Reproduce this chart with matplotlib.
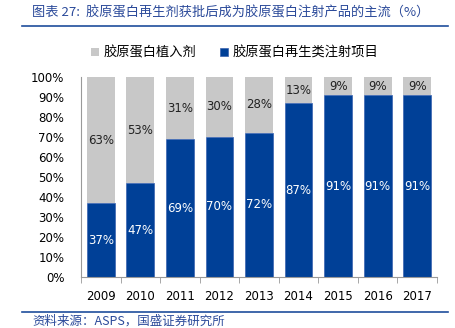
import matplotlib.pyplot as plt
import numpy as np

plt.rcParams['font.family'] = ['DejaVu Sans', 'Noto Sans CJK SC']

# Daten aus der Grafik
jahre = ['2009', '2010', '2011', '2012', '2013', '2014', '2015', '2016', '2017']
regeneration = [37, 47, 69, 70, 72, 87, 91, 91, 91]
implantat = [63, 53, 31, 30, 28, 13, 9, 9, 9]

name_implantat = '胶原蛋白植入剂'
name_regeneration = '胶原蛋白再生类注射项目'
titel = '图表 27:  胶原蛋白再生剂获批后成为胶原蛋白注射产品的主流（%）'
quelle = '资料来源：ASPS，国盛证券研究所'

blau = '#004097'
grau = '#c8c8c8'
text_blau = '#2b4a9a'
cjk = ['Noto Sans CJK SC', 'DejaVu Sans']

fig = plt.figure(figsize=(4.55, 3.28), dpi=100)
ax = fig.add_axes([81 / 455, 1 - 277 / 328, 356 / 455, 200 / 328])

x = np.arange(len(jahre))
ax.bar(x, regeneration, width=0.7, color=blau, edgecolor='#3a62b0', linewidth=0.5,
       label=name_regeneration)
ax.bar(x, implantat, width=0.7, bottom=regeneration, color=grau, label=name_implantat)

for i in range(len(jahre)):
    ax.text(x[i], regeneration[i] / 2, f'{regeneration[i]}%', ha='center', va='center',
            color='white', fontsize=8.5)
    ax.text(x[i], regeneration[i] + implantat[i] / 2, f'{implantat[i]}%', ha='center',
            va='center', color='#222222', fontsize=8.5)

ax.set_xlim(-0.5, len(jahre) - 0.5)
ax.set_ylim(0, 100)
ax.set_yticks(np.arange(0, 101, 10))
ax.set_yticklabels([f'{v}%' for v in range(0, 101, 10)], fontsize=8.5)
ax.set_xticks(x)
ax.set_xticklabels(jahre, fontsize=8.5)
ax.set_xticks(np.arange(-0.5, len(jahre), 1), minor=True)
ax.tick_params(axis='x', which='major', length=0, pad=9)
ax.tick_params(axis='x', which='minor', length=4, color='#999999', direction='out')
ax.tick_params(axis='y', length=0, pad=12)
for s in ['top', 'right']:
    ax.spines[s].set_visible(False)
ax.spines['left'].set_color('#999999')
ax.spines['bottom'].set_color('#999999')

# Legende
handles, labels = ax.get_legend_handles_labels()
fig.legend(handles[::-1], labels[::-1], loc='center', bbox_to_anchor=(0.515, 1 - 53 / 328),
           ncol=2, frameon=False, prop={'family': cjk, 'size': 9.5},
           handlelength=0.65, handleheight=0.65, handletextpad=0.3, columnspacing=1.8)

# Titel und Quelle
fig.text(32 / 455, 1 - 13 / 328, titel, ha='left', va='center', color=text_blau,
         fontsize=9.5, family=cjk, style='italic')
fig.add_artist(plt.Line2D([22 / 455, 448 / 455], [1 - 26 / 328, 1 - 26 / 328],
                          color='#1f4e9c', linewidth=1.2))
fig.add_artist(plt.Line2D([22 / 455, 448 / 455], [1 - 312 / 328, 1 - 312 / 328],
                          color='#1f4e9c', linewidth=1.2))
fig.text(32 / 455, 1 - 321 / 328, quelle, ha='left', va='center', color=text_blau,
         fontsize=9, family=cjk, style='italic')

fig.savefig('out.png', dpi=100)
